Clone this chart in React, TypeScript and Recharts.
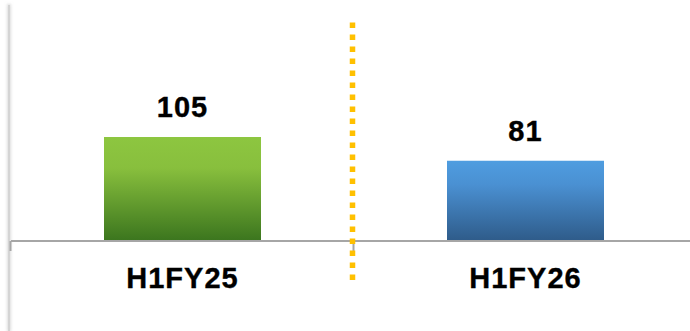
import React from "react";
import { BarChart, Bar, XAxis, YAxis, Cell, LabelList } from "recharts";

const periods = ["H1FY25", "H1FY26"];
const values = [105, 81];
const gradientIds = ["barGreen", "barBlue"];

const data = periods.map((period, i) => ({ period, value: values[i] }));

const FONT = "'Liberation Sans', Arial, Helvetica, sans-serif";

// Category tick: boundary tick mark at the band's left edge, bold label,
// and a dotted divider between the two periods.
const PeriodTick = (props: any) => {
  const { x, y, payload, index } = props;
  const offset = payload?.offset ?? 0;
  const edge = x - offset;
  return (
    <g>
      <line x1={edge - 0.5} y1={y} x2={edge - 0.5} y2={y + 10} stroke="#a6a6a6" strokeWidth={2} />
      {index === 1 && (
        <line
          x1={edge - 1.5}
          y1={y - 218.5}
          x2={edge - 1.5}
          y2={y + 39}
          stroke="#FFC000"
          strokeWidth={5.5}
          strokeDasharray="5.5 6.5"
        />
      )}
      <text
        x={x}
        y={y + 47}
        textAnchor="middle"
        fill="#000"
        stroke="#000"
        strokeWidth={0.35}
        fontFamily={FONT}
        fontWeight="bold"
        fontSize={29}
        letterSpacing={1}
      >
        {payload.value}
      </text>
    </g>
  );
};

export default function App() {
  return (
    <div style={{ position: "absolute", left: 0, top: 0, width: 690, height: 331, background: "#fff" }}>
      <div
        style={{
          position: "absolute",
          left: 8,
          top: 5,
          width: 1.5,
          height: 326,
          background: "#d4d4d4",
          boxShadow: "0 0 3px 1px rgba(200,200,200,0.6)",
        }}
      />
      <BarChart
        width={690}
        height={331}
        data={data}
        margin={{ top: 3, right: -7, bottom: 0, left: 11 }}
        barSize={157}
      >
        <defs>
          <linearGradient id="barGreen" x1="0" y1="0" x2="0" y2="1">
            <stop offset="0%" stopColor="#8dc640" />
            <stop offset="30%" stopColor="#88bf3d" />
            <stop offset="100%" stopColor="#3b751e" />
          </linearGradient>
          <linearGradient id="barBlue" x1="0" y1="0" x2="0" y2="1">
            <stop offset="0%" stopColor="#4f9de0" />
            <stop offset="30%" stopColor="#4a90d2" />
            <stop offset="100%" stopColor="#2e5b89" />
          </linearGradient>
        </defs>
        <YAxis hide domain={[0, 240]} />
        <XAxis
          dataKey="period"
          height={90}
          axisLine={{ stroke: "#a6a6a6", strokeWidth: 2 }}
          tickLine={false}
          tickSize={0}
          tickMargin={0}
          interval={0}
          tick={<PeriodTick />}
        />
        <Bar dataKey="value" isAnimationActive={false}>
          {data.map((d, i) => (
            <Cell key={d.period} fill={`url(#${gradientIds[i]})`} />
          ))}
          <LabelList
            dataKey="value"
            position="top"
            offset={20}
            fill="#000"
            stroke="#000"
            strokeWidth={0.35}
            fontFamily={FONT}
            fontWeight="bold"
            fontSize={29}
            letterSpacing={1}
          />
        </Bar>
      </BarChart>
    </div>
  );
}
